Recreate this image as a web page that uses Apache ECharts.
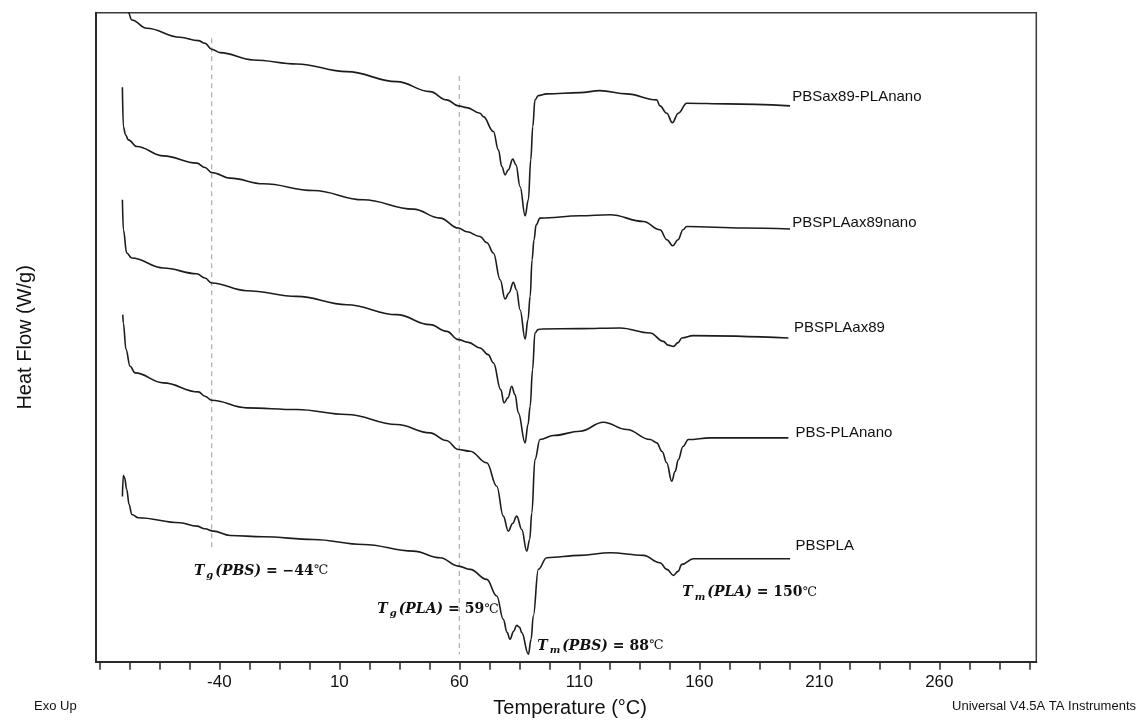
<!DOCTYPE html>
<html>
<head>
<meta charset="utf-8">
<title>DSC curves</title>
<script src="https://cdn.jsdelivr.net/npm/echarts@6/dist/echarts.min.js"></script>
<style>
  html, body { margin: 0; padding: 0; background: #fff; }
  #chart { width: 1142px; height: 723px; }
</style>
</head>
<body>
<div id="chart"></div>
<script>
// curves are stacked by the instrument, y is only a relative heat flow
const seriesNames = ['PBSax89-PLAnano', 'PBSPLAax89nano', 'PBSPLAax89', 'PBS-PLAnano', 'PBSPLA']

const curvePBSax89PLAnano = [
  [-78.2, 66.5], [-77.9, 65.0], [-76.5, 64.27], [-70.25, 63.44], [-56.4, 62.54], [-48.75, 62.2],
  [-46.0, 61.94], [-43.2, 61.34], [-39.7, 61.0], [-25.8, 60.27], [-7.75, 59.87], [13.1, 59.1],
  [33.9, 58.1], [47.8, 57.1], [54.75, 56.27], [59.6, 55.67], [63.1, 55.5], [68.6, 54.94],
  [70.0, 54.6], [74.2, 53.1], [76.25, 51.27], [77.7, 49.6], [79.05, 48.77], [80.4, 49.27],
  [82.25, 50.34], [83.6, 49.77], [85.3, 47.6], [87.4, 44.67], [88.75, 46.27], [89.75, 50.27],
  [90.6, 53.6], [91.5, 56.27], [92.9, 56.7], [96.4, 56.87], [110.3, 57.0], [118.6, 57.2],
  [129.75, 56.87], [142.25, 56.27], [143.6, 55.67], [146.4, 54.94], [148.75, 54.0], [151.25, 54.94],
  [154.75, 55.94], [171.4, 55.87], [197.8, 55.67]
]
const curvePBSPLAax89nano = [
  [-80.4, 57.54], [-80.0, 53.6], [-79.1, 52.77], [-77.9, 52.27], [-74.4, 51.6], [-63.3, 50.67],
  [-49.4, 49.94], [-46.0, 49.5], [-43.2, 49.0], [-35.5, 48.44], [-21.7, 47.87], [-0.8, 47.2],
  [20.0, 46.27], [40.8, 45.34], [52.0, 44.44], [59.6, 43.44], [63.1, 43.07], [68.6, 42.6],
  [71.5, 41.97], [74.2, 40.94], [77.0, 38.27], [79.05, 36.34], [80.7, 36.97], [82.5, 38.0],
  [83.8, 37.27], [85.3, 35.27], [87.4, 32.34], [88.6, 34.27], [89.5, 36.6], [90.3, 40.27],
  [91.1, 42.27], [92.0, 43.77], [93.6, 44.44], [110.3, 44.67], [122.8, 44.77], [136.7, 44.1],
  [143.6, 43.27], [146.5, 42.27], [148.9, 41.67], [151.1, 42.27], [153.2, 43.27], [154.75, 43.6],
  [178.3, 43.44], [197.8, 43.34]
]
const curvePBSPLAax89 = [
  [-80.4, 46.27], [-80.0, 43.27], [-78.6, 40.94], [-76.5, 40.44], [-63.3, 39.44], [-49.4, 38.87],
  [-46.0, 38.44], [-43.2, 37.94], [-28.6, 37.17], [-7.75, 36.6], [13.1, 35.77], [33.9, 34.77],
  [47.8, 33.77], [54.75, 33.1], [59.6, 32.27], [63.75, 32.0], [68.6, 31.44], [72.0, 30.77],
  [74.2, 29.94], [77.25, 27.27], [78.6, 25.94], [80.3, 26.47], [81.8, 27.6], [83.2, 26.77],
  [84.6, 24.94], [87.4, 21.94], [88.6, 23.77], [89.5, 25.6], [90.5, 29.27], [91.5, 32.94],
  [92.8, 33.27], [94.3, 33.34], [110.3, 33.37], [126.95, 33.44], [139.5, 32.94], [145.0, 32.1],
  [147.0, 31.72], [149.2, 31.6], [151.1, 31.97], [152.7, 32.44], [157.5, 32.67], [197.1, 32.44]
]
const curvePBSPLAnano = [
  [-80.25, 34.77], [-80.0, 33.94], [-78.9, 31.27], [-77.2, 29.6], [-75.1, 28.94], [-63.3, 27.94],
  [-48.75, 27.04], [-46.0, 26.6], [-43.2, 26.2], [-28.6, 25.44], [-7.75, 25.27], [13.1, 24.77],
  [33.9, 23.77], [47.8, 22.94], [54.5, 22.17], [59.6, 21.27], [64.5, 21.1], [71.4, 19.94],
  [75.6, 17.6], [78.3, 14.6], [80.4, 13.1], [82.2, 13.87], [83.9, 14.6], [86.0, 13.27],
  [88.1, 11.1], [89.3, 12.27], [90.2, 14.94], [91.5, 20.27], [93.6, 22.27], [99.2, 22.67],
  [110.3, 23.1], [120.0, 24.0], [129.75, 23.27], [139.5, 22.27], [142.25, 21.94], [144.5, 21.07],
  [146.4, 19.94], [148.5, 18.1], [149.9, 19.07], [151.25, 20.27], [153.2, 21.57], [155.4, 22.27],
  [164.5, 22.44], [197.1, 22.44]
]
const curvePBSPLA = [
  [-80.4, 16.57], [-80.0, 18.67], [-79.5, 18.47], [-78.6, 17.27], [-77.6, 15.77], [-76.5, 14.77],
  [-73.75, 14.44], [-56.4, 13.94], [-49.4, 13.6], [-46.0, 13.34], [-42.5, 13.1], [-35.5, 12.67],
  [-21.7, 12.54], [-0.8, 12.27], [20.0, 11.77], [40.8, 11.1], [52.0, 10.44], [59.6, 9.6],
  [64.5, 9.27], [71.4, 8.27], [75.6, 6.6], [78.3, 4.27], [79.9, 2.97], [81.1, 2.27],
  [82.6, 3.07], [83.9, 3.67], [85.1, 3.47], [86.0, 2.94], [88.75, 0.77], [89.9, 2.27],
  [90.8, 4.6], [92.9, 9.27], [96.4, 10.44], [110.3, 10.67], [122.8, 10.94], [136.7, 10.67],
  [143.6, 9.94], [146.5, 9.27], [149.2, 8.67], [151.1, 9.07], [152.7, 9.77], [157.5, 10.34],
  [197.8, 10.34]
]
const curves = [curvePBSax89PLAnano, curvePBSPLAax89nano, curvePBSPLAax89, curvePBSPLAnano, curvePBSPLA]

// where each curve name is written (left edge of text)
const namePos = [[198.5, 56.54], [198.5, 43.94], [199.2, 33.44], [199.9, 22.94], [199.9, 11.6]]

// dashed guide lines: temperature, top, bottom
const guideLines = [[-43.2, 62.44, 11.27], [60, 58.67, 0.77]]

// transition notes
const notePos = [[-50.8, 9.1], [25.6, 5.27], [92.25, 1.6], [152.7, 6.94]]
const noteSub = ['g', 'g', 'm', 'm']
const noteArg = ['(PBS)', '(PLA)', '(PBS)', '(PLA)']
const noteVal = ['\u221244', '59', '88', '150']

// plot range and the tick run (ticks start at -90, every 12.5, labels every 50)
const xMin = -91.4
const xMax = 300.4
const tickMin = -90
const tickMax = 297.5
const pxPerDeg = 2.4

const chart = echarts.init(document.getElementById('chart'))

const serif = 'DejaVu Serif'
const sans = 'Liberation Sans, Arial, sans-serif'
const gridLeft = 96
const gridRight = 105.7

const lineSeries = curves.map((d, i) => ({
  name: seriesNames[i],
  type: 'line',
  data: d,
  smooth: 0.4,
  smoothMonotone: 'x',
  symbol: 'none',
  lineStyle: { color: '#1c1c1c', width: 1.6 },
  silent: true,
  z: 3
}))

const guideSeries = guideLines.map(g => ({
  type: 'line',
  data: [[g[0], g[1]], [g[0], g[2]]],
  symbol: 'none',
  lineStyle: { color: '#b3b3b3', width: 1.3, type: [5, 4] },
  silent: true,
  z: 2
}))

// scatter defaults to 0.8 opacity, which also fades the labels
const hidden = { color: 'rgba(0,0,0,0)', opacity: 1 }

const option = {
  backgroundColor: '#fff',
  animation: false,
  grid: [
    {
      left: gridLeft,
      right: gridRight,
      top: 12.7,
      bottom: 60.3,
      show: true,
      borderColor: '#3a3a3a',
      borderWidth: 1.5
    },
    {
      // same scale as the plot, just starting at the first tick
      left: gridLeft + (tickMin - xMin) * pxPerDeg,
      right: gridRight + (xMax - tickMax) * pxPerDeg,
      top: 12.7,
      bottom: 60.3
    }
  ],
  xAxis: [
    {
      type: 'value',
      gridIndex: 0,
      min: xMin,
      max: xMax,
      name: 'Temperature (\u00b0C)',
      nameLocation: 'middle',
      nameGap: 36,
      nameTextStyle: { fontFamily: sans, fontSize: 20, color: '#111', padding: [0, 0, 0, 8] },
      axisLine: { show: true, onZero: false, lineStyle: { color: '#2a2a2a', width: 2 } },
      axisTick: { show: false },
      axisLabel: { show: false },
      splitLine: { show: false }
    },
    {
      type: 'value',
      gridIndex: 1,
      position: 'bottom',
      min: tickMin,
      max: tickMax,
      interval: 12.5,
      axisLine: { show: false },
      axisTick: { show: true, length: 7, lineStyle: { color: '#2a2a2a', width: 1.5 } },
      axisLabel: {
        margin: 11,
        fontFamily: sans,
        fontSize: 17,
        color: '#111',
        showMinLabel: true,
        showMaxLabel: true,
        formatter: v => (v >= -40 && (v + 40) % 50 === 0) ? String(v) : ''
      },
      splitLine: { show: false }
    }
  ],
  yAxis: [
    {
      type: 'value',
      gridIndex: 0,
      min: 0,
      max: 65,
      name: 'Heat Flow (W/g)',
      nameLocation: 'middle',
      nameGap: 61,
      nameTextStyle: { fontFamily: sans, fontSize: 20, color: '#111' },
      axisLine: { show: true, onZero: false, lineStyle: { color: '#2a2a2a', width: 2 } },
      axisTick: { show: false },
      axisLabel: { show: false },
      splitLine: { show: false }
    },
    {
      type: 'value',
      gridIndex: 1,
      min: 0,
      max: 65,
      show: false
    }
  ],
  series: [
    ...lineSeries,
    ...guideSeries,
    {
      type: 'scatter',
      symbolSize: 1,
      itemStyle: hidden,
      silent: true,
      data: namePos.map((p, i) => ({ value: p, name: seriesNames[i] })),
      label: {
        show: true,
        position: 'right',
        distance: 0,
        formatter: '{b}',
        fontFamily: sans,
        fontSize: 15,
        color: '#111'
      },
      z: 4
    },
    {
      type: 'scatter',
      symbolSize: 1,
      itemStyle: hidden,
      silent: true,
      data: notePos.map(p => ({ value: p })),
      label: {
        show: true,
        position: 'right',
        distance: 0,
        formatter: p => {
          const i = p.dataIndex
          return `{t|T}{s|${noteSub[i]}}{t|${noteArg[i]}}{v| = ${noteVal[i]}}{c|\u2103}`
        },
        rich: {
          t: { fontFamily: serif, fontStyle: 'italic', fontWeight: 'bold', fontSize: 14, color: '#111' },
          s: { fontFamily: serif, fontStyle: 'italic', fontWeight: 'bold', fontSize: 10, color: '#111', padding: [9, 2, 0, 2] },
          v: { fontFamily: serif, fontWeight: 'bold', fontSize: 14, color: '#111' },
          c: { fontFamily: serif, fontSize: 13, color: '#111' }
        }
      },
      z: 4
    }
  ],
  graphic: [
    {
      type: 'text',
      left: 34,
      top: 700,
      style: { text: 'Exo Up', font: '13px Liberation Sans, Arial', fill: '#111' }
    },
    {
      type: 'text',
      right: 6,
      top: 700,
      style: { text: 'Universal V4.5A TA Instruments', font: '13px Liberation Sans, Arial', fill: '#111' }
    }
  ]
}

chart.setOption(option)
window.addEventListener('resize', () => chart.resize())
</script>
</body>
</html>
